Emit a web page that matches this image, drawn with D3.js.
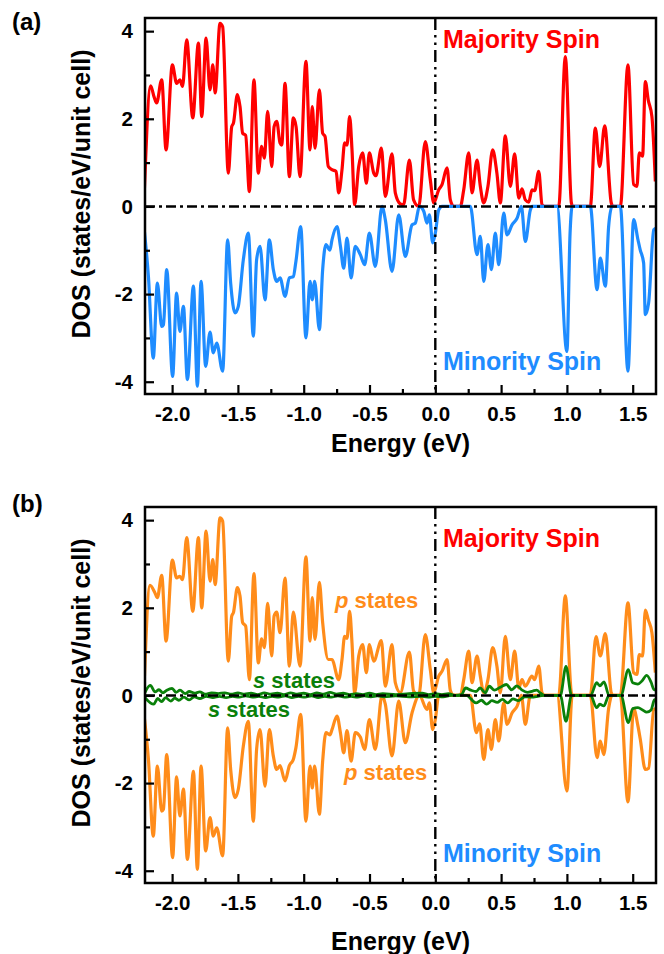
<!DOCTYPE html>
<html>
<head>
<meta charset="utf-8">
<script src="https://cdn.jsdelivr.net/npm/d3@7"></script>
<style>
body { margin: 0; background: #fff; }
svg text { font-family: "Liberation Sans", Arial, sans-serif; font-weight: bold; }
</style>
</head>
<body>
<svg id="chart" width="664" height="954"></svg>
<script>
// 軸の範囲と目盛り
var xDomain = [-2.206, 1.677];
var yDomain = [-4.28, 4.3];
var xTicks = [-2.0, -1.5, -1.0, -0.5, 0.0, 0.5, 1.0, 1.5];
var xMinor = [-1.75, -1.25, -0.75, -0.25, 0.25, 0.75, 1.25];
var yTicks = [-4, -2, 0, 2, 4];
var yMinor = [-3, -1, 1, 3];

// (a) 全DOS [Energy (eV), DOS]
var majority = [[-2.21,0.43],[-2.163,2.75],[-2.137,2.5],[-2.118,2.36],[-2.079,2.89],[-2.046,1.29],[-1.998,3.23],[-1.966,2.81],[-1.941,2.89],[-1.921,2.74],[-1.889,3.8],[-1.843,2.02],[-1.8,3.73],[-1.775,2.05],[-1.742,3.84],[-1.712,2.66],[-1.691,3.23],[-1.673,2.59],[-1.636,4.18],[-1.616,4.1],[-1.573,0.76],[-1.547,1.82],[-1.534,1.9],[-1.504,2.55],[-1.484,2.28],[-1.464,1.67],[-1.441,1.62],[-1.413,0.34],[-1.378,2.89],[-1.345,0.76],[-1.32,1.37],[-1.299,1.1],[-1.274,2.17],[-1.243,0.91],[-1.225,1.82],[-1.205,1.94],[-1.18,1.45],[-1.167,1.4],[-1.142,2.81],[-1.109,0.68],[-1.079,2.02],[-1.058,1.82],[-1.028,0.68],[-0.983,3.31],[-0.952,1.29],[-0.935,2.28],[-0.914,1.33],[-0.881,2.66],[-0.856,1.67],[-0.838,1.6],[-0.813,0.91],[-0.786,0.84],[-0.754,0.8],[-0.734,0.31],[-0.709,0.84],[-0.689,1.45],[-0.671,1.4],[-0.651,2.05],[-0.633,1.29],[-0.613,0.04],[-0.582,0.91],[-0.552,1.22],[-0.524,0.53],[-0.501,1.22],[-0.468,0.76],[-0.451,0.7],[-0.41,1.33],[-0.38,0.23],[-0.329,1.2],[-0.304,0.31],[-0.266,0.06],[-0.241,0.04],[-0.197,1.06],[-0.165,0.15],[-0.126,0],[-0.076,1.48],[-0.038,0.61],[-0.012,0.08],[0.026,0.38],[0.051,0.5],[0.089,0.88],[0.114,0.15],[0.14,0],[0.19,0],[0.216,0.38],[0.254,1.22],[0.279,0.31],[0.317,1.06],[0.342,0.46],[0.368,0.08],[0.4,0.46],[0.436,1.29],[0.468,0.76],[0.494,0.08],[0.532,1.61],[0.57,0.46],[0.603,1.2],[0.634,0.19],[0.659,0.4],[0.684,0.15],[0.71,0.1],[0.735,0.38],[0.755,0.36],[0.786,0.8],[0.811,0.04],[0.83,0],[0.938,0],[0.988,3.42],[1.034,0.08],[1.045,0],[1.178,0],[1.216,1.79],[1.249,0.91],[1.287,1.84],[1.337,0.08],[1.35,0],[1.406,0],[1.464,3.23],[1.507,0.5],[1.532,0.46],[1.55,1.22],[1.575,1.15],[1.596,2.85],[1.618,2.43],[1.646,2.05],[1.672,0.57]];
var minority = [[-2.214,-0.46],[-2.18,-1.6],[-2.143,-3.46],[-2.112,-1.75],[-2.079,-2.74],[-2.066,-2.7],[-2.041,-1.44],[-1.996,-3.88],[-1.966,-1.98],[-1.941,-2.85],[-1.914,-2.28],[-1.884,-3.95],[-1.838,-1.82],[-1.808,-4.1],[-1.78,-1.71],[-1.745,-3.65],[-1.712,-2.87],[-1.687,-3.34],[-1.661,-3.12],[-1.616,-3.76],[-1.578,-0.76],[-1.555,-1.75],[-1.522,-2.43],[-1.497,-2.28],[-1.459,-1.22],[-1.421,-0.61],[-1.383,-2.96],[-1.358,-1.22],[-1.332,-0.91],[-1.294,-2.13],[-1.261,-0.76],[-1.231,-1.44],[-1.205,-1.71],[-1.18,-1.63],[-1.142,-2.05],[-1.109,-1.63],[-1.079,-1.6],[-1.059,-1.25],[-1.023,-0.46],[-0.983,-3.0],[-0.952,-1.71],[-0.935,-2.13],[-0.917,-1.71],[-0.881,-2.81],[-0.856,-1.44],[-0.831,-0.87],[-0.801,-1.0],[-0.785,-0.76],[-0.747,-0.46],[-0.721,-0.91],[-0.696,-1.41],[-0.671,-0.72],[-0.64,-1.63],[-0.608,-0.91],[-0.57,-1.1],[-0.537,-1.33],[-0.501,-0.61],[-0.456,-1.37],[-0.405,0],[-0.38,-0.3],[-0.329,-1.48],[-0.278,-0.19],[-0.228,-1.14],[-0.177,-0.42],[-0.152,-0.38],[-0.121,0],[-0.088,-0.11],[-0.063,-0.38],[-0.045,-0.19],[-0.02,-0.83],[0.0,-0.61],[0.026,-0.08],[0.051,0],[0.266,0],[0.317,-1.1],[0.342,-0.68],[0.368,-1.71],[0.4,-0.87],[0.426,-1.44],[0.456,-0.61],[0.482,-1.33],[0.52,-0.15],[0.545,-0.65],[0.583,-0.42],[0.621,-0.27],[0.654,0],[0.684,-0.8],[0.722,-0.08],[0.735,0],[0.925,0],[1.0,-3.31],[1.024,-0.61],[1.04,0],[1.178,0],[1.229,-1.9],[1.254,-1.18],[1.292,-1.82],[1.317,-0.46],[1.343,0],[1.406,0],[1.464,-3.76],[1.507,-0.3],[1.54,-0.76],[1.557,-0.99],[1.583,-1.29],[1.596,-2.47],[1.621,-2.2],[1.66,-0.53],[1.68,-0.49]];

// (b) p成分とs成分
var pUp = [[-2.21,0.44],[-2.168,2.51],[-2.13,2.34],[-2.112,2.23],[-2.079,2.74],[-2.046,1.24],[-1.998,3.09],[-1.966,2.68],[-1.941,2.72],[-1.921,2.64],[-1.889,3.6],[-1.843,1.92],[-1.8,3.6],[-1.775,2.0],[-1.742,3.75],[-1.712,2.61],[-1.691,3.1],[-1.673,2.53],[-1.636,4.05],[-1.616,3.98],[-1.573,0.78],[-1.547,1.81],[-1.534,1.89],[-1.504,2.46],[-1.484,2.27],[-1.464,1.66],[-1.441,1.58],[-1.413,0.36],[-1.378,2.78],[-1.345,0.74],[-1.32,1.29],[-1.299,1.09],[-1.274,2.1],[-1.243,0.9],[-1.225,1.81],[-1.205,1.9],[-1.18,1.43],[-1.142,2.68],[-1.109,0.67],[-1.079,1.9],[-1.028,0.67],[-0.983,3.16],[-0.952,1.24],[-0.935,2.23],[-0.914,1.28],[-0.881,2.58],[-0.856,1.66],[-0.813,0.82],[-0.786,0.82],[-0.734,0.36],[-0.709,0.82],[-0.689,1.35],[-0.671,1.3],[-0.651,1.92],[-0.633,1.2],[-0.613,0.06],[-0.582,0.9],[-0.552,1.16],[-0.524,0.52],[-0.501,1.16],[-0.468,0.78],[-0.41,1.25],[-0.38,0.21],[-0.329,1.16],[-0.304,0.29],[-0.266,0.06],[-0.197,0.99],[-0.165,0.1],[-0.126,0],[-0.076,1.39],[-0.038,0.59],[-0.012,0.06],[0.026,0.44],[0.051,0.55],[0.089,0.82],[0.114,0.12],[0.14,0],[0.19,0],[0.216,0.36],[0.254,1.01],[0.279,0.29],[0.317,0.9],[0.342,0.44],[0.368,0.06],[0.4,0.36],[0.436,1.09],[0.468,0.67],[0.494,0.06],[0.532,1.35],[0.57,0.36],[0.603,1.01],[0.634,0.17],[0.659,0.36],[0.684,0.21],[0.735,0.44],[0.755,0.36],[0.786,0.67],[0.811,0.06],[0.83,0],[0.938,0],[0.988,2.27],[1.034,0.06],[1.045,0],[1.178,0],[1.221,1.34],[1.254,0.9],[1.292,1.41],[1.337,0.06],[1.35,0],[1.406,0],[1.464,2.11],[1.507,0.52],[1.532,0.48],[1.55,0.93],[1.575,0.9],[1.596,1.95],[1.618,1.73],[1.646,1.43],[1.672,0.52]];
var pDown = [[-2.214,-0.43],[-2.18,-1.46],[-2.143,-3.21],[-2.112,-1.61],[-2.079,-2.64],[-2.066,-2.6],[-2.041,-1.35],[-1.996,-3.7],[-1.966,-1.86],[-1.941,-2.75],[-1.914,-2.14],[-1.884,-3.74],[-1.838,-1.73],[-1.808,-3.97],[-1.78,-1.61],[-1.745,-3.55],[-1.712,-2.79],[-1.687,-3.21],[-1.661,-3.02],[-1.616,-3.66],[-1.578,-0.74],[-1.555,-1.69],[-1.522,-2.33],[-1.497,-2.14],[-1.459,-1.16],[-1.421,-0.59],[-1.383,-2.87],[-1.358,-1.23],[-1.332,-0.78],[-1.294,-2.07],[-1.261,-0.78],[-1.231,-1.38],[-1.205,-1.69],[-1.18,-1.6],[-1.142,-1.95],[-1.109,-1.6],[-1.079,-1.46],[-1.059,-1.19],[-1.023,-0.43],[-0.983,-2.87],[-0.952,-1.61],[-0.935,-2.11],[-0.917,-1.61],[-0.881,-2.71],[-0.856,-1.5],[-0.831,-0.85],[-0.801,-0.9],[-0.785,-0.78],[-0.747,-0.47],[-0.721,-0.85],[-0.696,-1.31],[-0.671,-0.8],[-0.64,-1.5],[-0.608,-0.85],[-0.57,-0.95],[-0.537,-1.23],[-0.501,-0.55],[-0.456,-1.23],[-0.405,0],[-0.38,-0.2],[-0.329,-1.38],[-0.278,-0.13],[-0.228,-1.08],[-0.177,-0.4],[-0.121,0],[-0.063,-0.32],[-0.045,-0.17],[-0.02,-0.78],[0.0,-0.55],[0.026,0],[0.266,0],[0.312,-0.85],[0.337,-0.65],[0.368,-1.46],[0.4,-0.78],[0.426,-1.23],[0.456,-0.55],[0.482,-1.04],[0.52,-0.17],[0.545,-0.66],[0.583,-0.4],[0.621,-0.25],[0.654,0],[0.684,-0.66],[0.722,0],[0.925,0],[1.0,-2.18],[1.04,0],[1.178,0],[1.229,-1.42],[1.254,-1.04],[1.28,-1.35],[1.317,-0.3],[1.343,0],[1.406,0],[1.464,-2.43],[1.507,-0.3],[1.54,-0.7],[1.557,-0.99],[1.596,-1.69],[1.621,-1.66],[1.66,-0.32],[1.68,-0.3]];
var sUp = [[-2.214,0.02],[-2.165,0.23],[-2.13,0.08],[-2.1,0.13],[-2.07,0.06],[-2.04,0.12],[-2.0,0.16],[-1.97,0.07],[-1.94,0.12],[-1.9,0.04],[-1.87,0.09],[-1.83,0.05],[-1.79,0.08],[-1.75,0.03],[-1.7,0.06],[-1.65,0.04],[-1.6,0.06],[-1.55,0.03],[-1.5,0.06],[-1.45,0.03],[-1.4,0.05],[-1.35,0.02],[-1.3,0.06],[-1.25,0.03],[-1.2,0.05],[-1.15,0.02],[-1.1,0.06],[-1.05,0.03],[-1.0,0.05],[-0.95,0.02],[-0.9,0.06],[-0.85,0.03],[-0.8,0.07],[-0.75,0.03],[-0.7,0.05],[-0.65,0.02],[-0.6,0.04],[-0.55,0.02],[-0.5,0.05],[-0.45,0.02],[-0.4,0.04],[-0.3,0.02],[-0.2,0.04],[-0.1,0.05],[-0.05,0.02],[0.0,0.04],[0.05,0.02],[0.1,0.04],[0.15,0],[0.2,0.02],[0.23,0.17],[0.27,0.12],[0.31,0.09],[0.34,0.17],[0.38,0.06],[0.41,0.21],[0.45,0.12],[0.49,0.18],[0.54,0.25],[0.58,0.13],[0.62,0.22],[0.66,0.12],[0.7,0.07],[0.74,0.1],[0.77,0.12],[0.8,0.05],[0.83,0],[0.95,0],[0.993,0.66],[1.035,0],[1.18,0],[1.226,0.29],[1.25,0.22],[1.282,0.31],[1.32,0],[1.41,0],[1.467,0.59],[1.5,0.29],[1.54,0.26],[1.57,0.33],[1.606,0.46],[1.64,0.3],[1.66,0.14],[1.68,0.12]];
var sDown = [[-2.214,-0.02],[-2.14,-0.2],[-2.11,-0.07],[-2.08,-0.14],[-2.05,-0.05],[-2.01,-0.13],[-1.98,-0.06],[-1.95,-0.11],[-1.91,-0.04],[-1.87,-0.1],[-1.83,-0.03],[-1.79,-0.07],[-1.74,-0.02],[-1.69,-0.05],[-1.64,-0.02],[-1.59,-0.05],[-1.54,-0.02],[-1.49,-0.04],[-1.44,-0.01],[-1.39,-0.04],[-1.34,-0.02],[-1.29,-0.05],[-1.24,-0.02],[-1.19,-0.04],[-1.14,-0.01],[-1.09,-0.05],[-1.04,-0.02],[-0.99,-0.04],[-0.94,-0.01],[-0.89,-0.05],[-0.84,-0.02],[-0.79,-0.04],[-0.74,-0.01],[-0.69,-0.04],[-0.64,-0.02],[-0.59,-0.04],[-0.54,-0.01],[-0.49,-0.03],[-0.44,-0.01],[-0.39,-0.03],[-0.3,-0.01],[-0.2,-0.03],[-0.1,-0.02],[-0.04,-0.04],[0.0,-0.02],[0.06,-0.03],[0.12,0],[0.24,0],[0.27,-0.08],[0.31,-0.17],[0.35,-0.11],[0.39,-0.2],[0.43,-0.12],[0.47,-0.16],[0.51,-0.09],[0.55,-0.17],[0.59,-0.08],[0.63,-0.12],[0.68,-0.03],[0.73,-0.04],[0.78,-0.02],[0.82,0],[0.95,0],[0.993,-0.59],[1.035,0],[1.18,0],[1.226,-0.28],[1.25,-0.2],[1.28,-0.24],[1.32,0],[1.41,0],[1.467,-0.62],[1.5,-0.3],[1.54,-0.28],[1.575,-0.33],[1.606,-0.38],[1.64,-0.33],[1.665,-0.1],[1.68,-0.09]];

// 各種サイズ
var plotLeft = 145, plotRight = 656, panelH = 376;
var svg = d3.select("#chart");

var x = d3.scaleLinear().domain(xDomain).range([plotLeft, plotRight]);

function drawPanel(id, top, series, texts) {
    var y = d3.scaleLinear().domain(yDomain).range([top + panelH, top]);
    var g = svg.append("g");

    g.append("clipPath").attr("id", "clip-" + id)
      .append("rect")
        .attr("x", plotLeft).attr("y", top)
        .attr("width", plotRight - plotLeft).attr("height", panelH);

    var line = d3.line()
        .x(function(d) { return x(d[0]); })
        .y(function(d) { return y(d[1]); })
        .curve(d3.curveMonotoneX);

    var curves = g.append("g").attr("clip-path", "url(#clip-" + id + ")");
    series.forEach(function(s) {
        curves.append("path")
            .datum(s.data)
            .attr("d", line)
            .attr("fill", "none")
            .attr("stroke", s.color)
            .attr("stroke-width", s.width)
            .attr("stroke-linejoin", "round");
    });

    // ゼロの破線
    g.append("line")
        .attr("x1", plotLeft).attr("x2", plotRight)
        .attr("y1", y(0)).attr("y2", y(0))
        .attr("stroke", "#000").attr("stroke-width", 2.4)
        .attr("stroke-dasharray", "10,4,3,4");
    g.append("line")
        .attr("x1", x(0)).attr("x2", x(0))
        .attr("y1", top).attr("y2", top + panelH)
        .attr("stroke", "#000").attr("stroke-width", 2.4)
        .attr("stroke-dasharray", "12,5,2.5,5,2.5,5");

    // 軸 (目盛りは内向き)
    g.append("g")
        .attr("transform", "translate(0," + (top + panelH) + ")")
        .call(d3.axisBottom(x).tickValues(xTicks).tickSize(-9).tickPadding(12)
              .tickFormat(function(d) { return d.toFixed(1); }));
    g.append("g")
        .attr("transform", "translate(0," + (top + panelH) + ")")
        .call(d3.axisBottom(x).tickValues(xMinor).tickSize(-5).tickFormat(""));
    g.append("g")
        .attr("transform", "translate(" + plotLeft + ",0)")
        .call(d3.axisLeft(y).tickValues(yTicks).tickSize(-9).tickPadding(12)
              .tickFormat(function(d) { return String(d); }));
    g.append("g")
        .attr("transform", "translate(" + plotLeft + ",0)")
        .call(d3.axisLeft(y).tickValues(yMinor).tickSize(-5).tickFormat(""));

    g.selectAll(".domain").remove();
    g.selectAll(".tick line").attr("stroke-width", 2.2);
    g.selectAll(".tick text").attr("font-size", 20.5)
        .attr("font-family", "Liberation Sans, Arial, sans-serif")
        .attr("font-weight", "bold").attr("fill", "#000");

    // 枠
    g.append("rect")
        .attr("x", plotLeft).attr("y", top)
        .attr("width", plotRight - plotLeft).attr("height", panelH)
        .attr("fill", "none").attr("stroke", "#000").attr("stroke-width", 2.5);

    // 軸ラベル
    g.append("text")
        .attr("transform", "translate(90," + (top + panelH / 2 - 12) + ") rotate(-90)")
        .attr("text-anchor", "middle")
        .attr("font-size", 25)
        .text("DOS (states/eV/unit cell)");

    texts.forEach(function(t) {
        var el = g.append("text")
            .attr("x", t.x).attr("y", t.y)
            .attr("font-size", t.size)
            .attr("fill", t.color)
            .attr("text-anchor", t.anchor || "start");
        if (t.italic) {
            el.append("tspan").attr("font-style", "italic").text(t.italic);
            el.append("tspan").text(t.text);
        } else {
            el.text(t.text);
        }
    });
}

drawPanel("a", 18,
    [{data: majority, color: "#ff0000", width: 3.2},
     {data: minority, color: "#1e8cff", width: 3.2}],
    [{x: 12, y: 30, size: 24, color: "#000", text: "(a)"},
     {x: 443, y: 48, size: 25, color: "#ff0000", text: "Majority Spin"},
     {x: 443, y: 370, size: 25, color: "#1e8cff", text: "Minority Spin"},
     {x: 400.5, y: 452, size: 25, color: "#000", text: "Energy (eV)", anchor: "middle"}]);

drawPanel("b", 507,
    [{data: pUp, color: "#ff8c1a", width: 3.2},
     {data: pDown, color: "#ff8c1a", width: 3.2},
     {data: sUp, color: "#0a800a", width: 2.8},
     {data: sDown, color: "#0a800a", width: 2.8}],
    [{x: 12, y: 512, size: 24, color: "#000", text: "(b)"},
     {x: 443, y: 547, size: 25, color: "#ff0000", text: "Majority Spin"},
     {x: 443, y: 862, size: 25, color: "#1e8cff", text: "Minority Spin"},
     {x: 335, y: 608, size: 22, color: "#ff8c1a", italic: "p", text: " states"},
     {x: 344, y: 780, size: 22, color: "#ff8c1a", italic: "p", text: " states"},
     {x: 253, y: 688, size: 22, color: "#0a800a", italic: "s", text: " states"},
     {x: 208, y: 717, size: 22, color: "#0a800a", italic: "s", text: " states"},
     {x: 400.5, y: 950, size: 25, color: "#000", text: "Energy (eV)", anchor: "middle"}]);
</script>
</body>
</html>
